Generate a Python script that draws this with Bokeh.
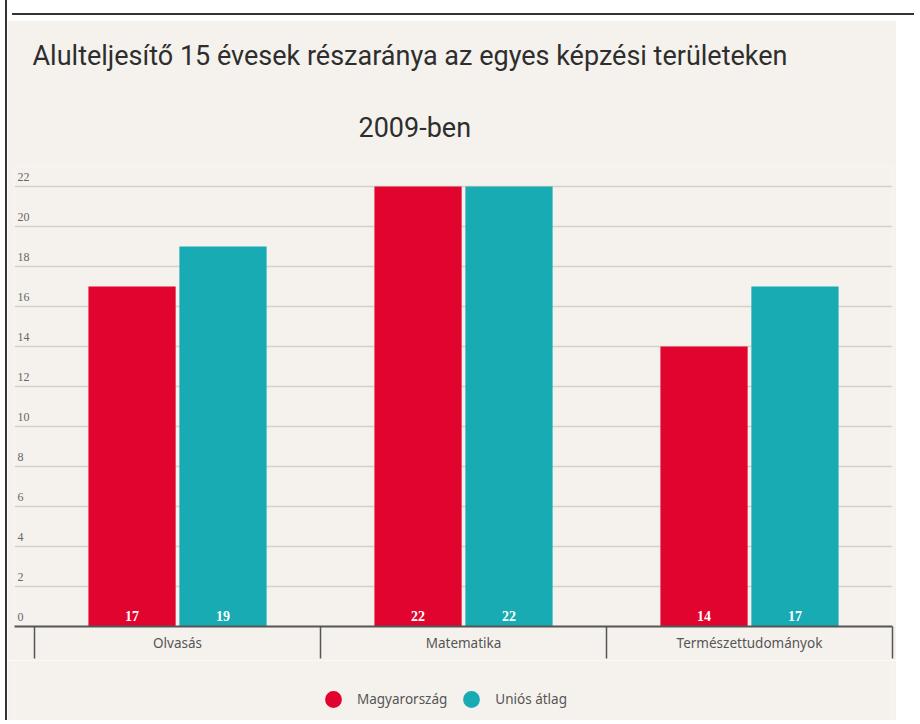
from bokeh.plotting import figure
from bokeh.models import (ColumnDataSource, FixedTicker, Range1d, LabelSet,
                          Legend, LegendItem, Title, Div)
from bokeh.layouts import column
from bokeh.core.properties import value
from bokeh.transform import dodge
from bokeh.embed import file_html
from bokeh.resources import INLINE

# ---- data ----
categories = ["Olvasás", "Matematika", "Természettudományok"]
hungary = [17, 22, 14]
eu_avg = [19, 22, 17]
series_names = ["Magyarország", "Uniós átlag"]
y_ticks = [0, 2, 4, 6, 8, 10, 12, 14, 16, 18, 20, 22]
y_tick_labels = [str(t) for t in y_ticks]
title_line1 = "Alulteljesítő 15 évesek részaránya az egyes képzési területeken"
title_line2 = "2009-ben"

RED = "#e1042e"
TEAL = "#18abb4"
BG = "#f5f2ed"
FONT = "Noto Sans"
TFONT = "Roboto"

centers = [i + 0.5 for i in range(len(categories))]
src = ColumnDataSource(dict(
    x=centers, hu=hungary, eu=eu_avg,
    hu_lbl=[str(v) for v in hungary], eu_lbl=[str(v) for v in eu_avg],
))

p = figure(width=889, height=640, x_range=Range1d(-0.07, 3.0), y_range=Range1d(0, 23),
           output_backend="svg", toolbar_location=None,
           min_border_left=7, min_border_right=4, min_border_top=146, min_border_bottom=34)
p.background_fill_color = BG
p.border_fill_color = BG
p.outline_line_color = None

# bars
OFF = 0.159
W = 0.305
p.vbar(x=dodge("x", -OFF, range=p.x_range), top="hu", width=W, source=src,
       fill_color=RED, line_color=None)
p.vbar(x=dodge("x", OFF, range=p.x_range), top="eu", width=W, source=src,
       fill_color=TEAL, line_color=None)

# value labels
for off, col in ((-OFF, "hu_lbl"), (OFF, "eu_lbl")):
    p.add_layout(LabelSet(x=dodge("x", off, range=p.x_range), y=0, text=col, source=src,
                          text_align="center", text_baseline="bottom", y_offset=6,
                          text_color="white", text_font=value("Liberation Serif"),
                          text_font_style="bold", text_font_size="14px"))

# y grid + labels
p.yaxis.visible = False
p.ygrid.ticker = FixedTicker(ticks=y_ticks)
p.ygrid.grid_line_color = "#d6d2ca"
p.ygrid.grid_line_width = 1.5
p.xgrid.grid_line_color = None
ysrc = ColumnDataSource(dict(y=y_ticks, t=y_tick_labels))
p.add_layout(LabelSet(x=-0.07, y="y", text="t", source=ysrc, text_align="left",
                      text_baseline="bottom", x_offset=3, y_offset=6, text_color="#666666",
                      text_font=value("Liberation Serif"), text_font_size="12px"))

# x axis
xa = p.xaxis[0]
xa.ticker = FixedTicker(ticks=centers, minor_ticks=list(range(len(categories) + 1)))
xa.major_label_overrides = {c: lab for c, lab in zip(centers, categories)}
xa.major_tick_out = 0
xa.major_tick_in = 0
xa.minor_tick_out = 32
xa.minor_tick_in = 0
xa.minor_tick_line_color = "#555555"
xa.minor_tick_line_width = 1.5
xa.axis_line_color = "#555555"
xa.axis_line_width = 2
xa.major_label_standoff = -25
xa.major_label_text_font = FONT
xa.major_label_text_font_size = "13.5px"
xa.major_label_text_color = "#555555"

# titles
p.add_layout(Title(text=title_line2, text_font=TFONT, text_font_size="27px",
                   text_color="#2e2e2e", align="left", offset=344,
                   text_font_style="normal", standoff=45), "above")
p.add_layout(Title(text=title_line1, text_font=TFONT, text_font_size="27px",
                   text_color="#2e2e2e", align="left", offset=18,
                   text_font_style="normal", standoff=32), "above")

# legend in its own strip below the chart; its markers carry the real values,
# which fall outside this strip's y range, so only the legend swatches show
lg = figure(width=889, height=60, x_range=Range1d(0, 3), y_range=Range1d(0, 1),
            output_backend="svg", toolbar_location=None,
            min_border_left=0, min_border_right=0, min_border_top=0, min_border_bottom=0)
lg.axis.visible = False
lg.grid.visible = False
lg.background_fill_color = BG
lg.border_fill_color = BG
lg.outline_line_color = None
r1 = lg.scatter(x="x", y="hu", source=src, marker="circle", size=18,
                fill_color=RED, line_color=None)
r2 = lg.scatter(x="x", y="eu", source=src, marker="circle", size=18,
                fill_color=TEAL, line_color=None)
legend = Legend(items=[LegendItem(label=series_names[0], renderers=[r1]),
                       LegendItem(label=series_names[1], renderers=[r2])],
                orientation="horizontal", location=(298, 0),
                background_fill_alpha=0, border_line_color=None,
                label_text_font=FONT, label_text_font_size="13.5px", label_text_color="#555555",
                glyph_width=42, glyph_height=42, label_standoff=3, spacing=3,
                margin=0, padding=0)
lg.add_layout(legend, "center")

top = Div(text="", width=902, height=2,
          styles={"border-top": "2px solid #333333", "box-sizing": "border-box",
                  "margin-top": "13px"})
layout = column(top, p, lg, spacing=0,
                styles={"border-left": "2px solid #333333", "margin-left": "5px"})

open("out.html", "w").write(file_html(layout, INLINE))
